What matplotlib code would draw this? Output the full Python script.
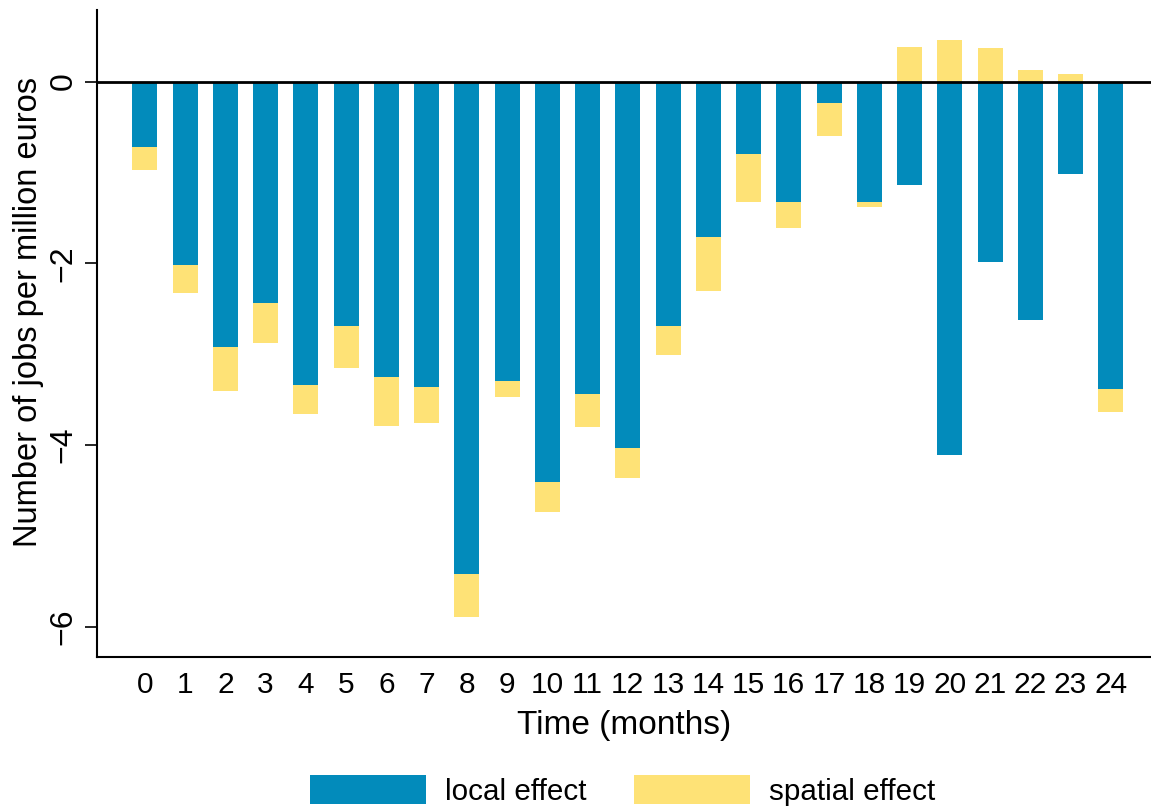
import matplotlib
matplotlib.use("Agg")
import matplotlib.pyplot as plt
import numpy as np

plt.rcParams['font.family'] = ['Liberation Sans', 'DejaVu Sans']

# months after the shock
months = list(range(25))
# local effect per month (jobs per million euros)
local_effect = [-0.72, -2.02, -2.92, -2.44, -3.34, -2.69, -3.25, -3.36, -5.42, -3.29,
                -4.41, -3.44, -4.03, -2.69, -1.71, -0.80, -1.33, -0.24, -1.33, -1.14,
                -4.11, -1.99, -2.62, -1.02, -3.38]
# spatial effect per month
spatial_effect = [-0.25, -0.31, -0.48, -0.44, -0.32, -0.46, -0.54, -0.40, -0.47, -0.18,
                  -0.33, -0.36, -0.33, -0.32, -0.59, -0.52, -0.28, -0.36, -0.05, 0.38,
                  0.46, 0.37, 0.13, 0.08, -0.26]
yticks = [0, -2, -4, -6]

blue = '#028bbb'
yellow = '#fee276'

x = np.array(months)
loc = np.array(local_effect)
spa = np.array(spatial_effect)
# spatial part stacks under the local bar if negative, above zero if positive
spa_bottom = np.where(spa < 0, np.minimum(loc, 0), 0)

fig = plt.figure(figsize=(11.51, 8.10), dpi=100)
ax = fig.add_axes([0.0843, 0.189, 0.9157, 0.799])

ax.bar(x, loc, width=0.62, color=blue, label='local effect')
ax.bar(x, spa, width=0.62, bottom=spa_bottom, color=yellow, label='spatial effect')
ax.axhline(0, color='black', linewidth=2, zorder=5)

ax.set_xlim(-1.19, 25.0)
ax.set_ylim(-6.33, 0.79)
ax.set_xticks(x)
ax.set_xticklabels([str(m) for m in months], fontsize=21.5)
ax.set_yticks(yticks)
ax.set_yticklabels(['0', '\u22122', '\u22124', '\u22126'], fontsize=23, rotation=90, va='center')
ax.tick_params(axis='x', length=0, pad=10)
ax.tick_params(axis='y', length=8.5, width=1.2, pad=5)

ax.spines['top'].set_visible(False)
ax.spines['right'].set_visible(False)
ax.spines['left'].set_linewidth(1.5)
ax.spines['bottom'].set_linewidth(1.5)

ax.set_xlabel('Time (months)', fontsize=24, labelpad=8)
ax.set_ylabel('Number of jobs per million euros', fontsize=23.5)
ax.yaxis.set_label_coords(-0.050, 0.533)

fig.legend(loc='center', bbox_to_anchor=(0.541, 0.024), ncol=2, frameon=False,
           fontsize=21.3, handlelength=3.92, handleheight=1.1, handletextpad=0.63,
           columnspacing=1.62)

fig.savefig('out.png', dpi=100)
